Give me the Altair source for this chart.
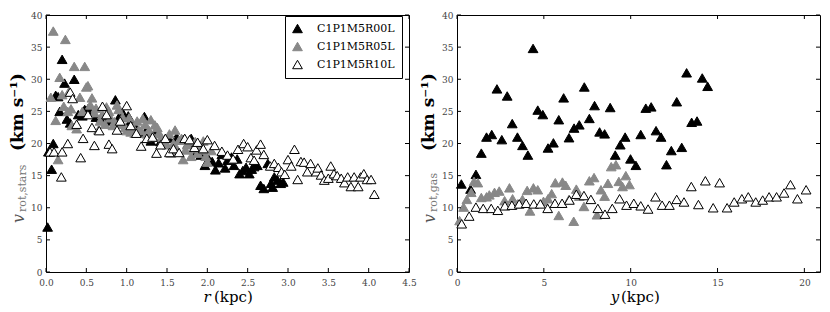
import altair as alt
import pandas as pd

series = ["C1P1M5R00L", "C1P1M5R05L", "C1P1M5R10L"]
fill_colors = ["#000000", "#888888", "#ffffff"]
stroke_colors = ["#000000", "#888888", "#000000"]

# ---- left panel: stars, r (kpc) ----
stars_r00_r = [0.02,0.03,0.07,0.09,0.12,0.15,0.17,0.20,0.23,0.26,0.30,0.35,0.40,0.45,0.48,0.52,0.55,0.62,0.68,0.72,0.78,0.86,0.90,0.96,1.02,1.05,1.10,1.15,1.22,1.25,1.30,1.36,1.42,1.48,1.52,1.58,1.62,1.70,1.76,1.80,1.86,1.92,1.97,2.02,2.06,2.10,2.14,2.18,2.22,2.25,2.30,2.33,2.37,2.40,2.44,2.48,2.52,2.55,2.58,2.62,2.66,2.70,2.75,2.79,2.81,2.83,2.87,2.91,2.94]
stars_r00_v = [7.0,18.7,16.0,20.0,27.5,27.3,25.0,33.1,29.4,23.8,23.2,30.0,24.5,24.3,25.3,25.4,24.9,24.1,24.0,23.9,23.5,26.8,24.0,24.6,24.3,23.5,22.8,21.8,24.2,22.2,20.4,21.8,20.3,20.0,20.8,19.7,21.0,20.6,20.0,20.8,18.6,18.2,16.6,17.5,17.2,15.9,17.0,18.3,16.2,17.4,17.9,16.6,17.6,15.3,15.8,16.3,15.3,16.0,16.4,16.6,13.5,13.0,16.9,13.8,13.2,14.8,14.3,13.8,14.0]

stars_r05_r = [0.06,0.09,0.12,0.15,0.17,0.20,0.22,0.24,0.28,0.31,0.35,0.38,0.42,0.45,0.48,0.50,0.52,0.57,0.60,0.65,0.70,0.75,0.80,0.85,0.90,0.95,1.00,1.05,1.10,1.15,1.20,1.25,1.30,1.35,1.40,1.45,1.50,1.55,1.60,1.65,1.70,1.75,1.80,1.85,1.90,1.95,2.00,2.05,
               0.55,0.62,0.67,0.73,0.78,0.83,0.88,0.93,0.98,1.03,1.08,1.13,1.18,1.23,1.28,1.33,1.38,1.43,1.48,1.53,1.58,1.63,1.68,1.73,1.78,1.83,1.88,1.93,1.98,0.32,0.27]
stars_r05_v = [27.2,37.5,23.6,17.5,30.3,27.6,25.8,36.2,28.0,25.4,32.0,22.3,27.2,25.0,32.0,28.8,29.0,27.1,24.8,22.1,24.5,25.7,24.0,23.4,25.3,24.1,22.0,21.8,21.6,22.1,23.9,21.5,23.7,22.9,21.6,20.5,19.8,18.5,22.1,20.5,17.5,19.8,18.0,20.3,19.7,20.4,17.1,18.9,
               26.0,25.5,23.5,23.0,25.0,22.8,26.0,23.0,22.5,24.0,22.5,23.5,22.0,23.0,22.0,21.0,22.5,21.0,20.8,21.5,20.0,19.0,20.8,19.0,20.5,19.2,18.5,19.0,18.0,22.8,25.0]

stars_r10_r = [0.05,0.10,0.19,0.20,0.27,0.30,0.33,0.38,0.43,0.46,0.52,0.57,0.60,0.66,0.70,0.75,0.78,0.82,0.88,0.92,1.00,1.05,1.12,1.18,1.25,1.32,1.37,1.42,1.48,1.53,1.58,1.65,1.72,1.78,1.84,1.88,1.95,2.00,2.09,2.18,2.25,2.32,2.38,2.45,2.50,2.54,2.58,2.61,2.66,2.70,2.78,2.83,2.88,2.92,2.96,3.00,3.04,3.08,3.12,3.16,3.20,3.24,3.28,3.35,3.37,3.41,3.45,3.50,3.53,3.57,3.61,3.66,3.70,3.74,3.78,3.82,3.87,3.90,3.94,3.98,4.03,4.07]
stars_r10_v = [18.7,18.7,14.8,18.7,20.0,28.0,27.0,23.0,17.8,20.8,24.5,22.5,19.7,22.0,25.8,24.5,19.9,19.2,22.1,23.5,25.9,22.8,21.6,19.6,20.8,21.0,18.5,19.8,20.8,18.6,19.2,18.6,20.8,20.6,19.4,20.2,19.2,20.6,19.7,18.8,18.2,17.6,19.1,20.0,19.5,17.8,17.4,19.0,19.9,18.3,16.5,16.9,16.3,15.6,15.2,17.5,16.5,19.1,14.4,17.2,17.1,15.6,16.9,15.6,16.2,15.1,14.3,14.6,16.5,15.3,15.0,14.6,13.9,14.8,13.3,14.8,13.3,14.8,15.3,14.4,14.4,12.1]

# ---- right panel: gas, y (kpc) ----
gas_r00_y = [0.25,0.78,1.09,1.40,1.70,2.00,2.30,2.58,2.89,3.18,3.48,3.77,4.08,4.38,4.65,4.94,5.24,5.55,5.86,6.14,6.45,6.74,7.04,7.33,7.62,7.92,8.21,8.50,8.82,9.11,9.40,9.68,9.99,10.30,10.58,10.87,11.18,11.46,11.75,12.06,12.34,12.65,12.94,13.22,13.51,13.82,14.12,14.43]
gas_r00_v = [13.7,12.9,15.2,18.5,21.0,21.4,28.5,20.6,27.4,23.1,21.0,19.7,18.2,34.8,25.2,24.5,19.3,20.1,23.7,27.1,20.9,22.4,22.9,28.8,23.9,25.9,21.8,21.5,25.6,18.2,19.8,21.0,17.6,16.6,21.4,25.5,25.7,22.0,21.0,16.7,18.9,26.5,19.4,31.0,23.3,23.5,30.2,28.9]

gas_r05_y = [0.15,0.38,0.57,0.82,0.98,1.20,1.40,1.70,1.86,2.16,2.43,2.74,3.02,3.20,3.48,3.77,4.04,4.20,4.40,4.65,4.98,5.24,5.45,5.66,5.86,6.07,6.26,6.45,6.72,6.87,7.04,7.31,7.62,7.89,8.06,8.29,8.50,8.69,8.88,9.15,9.32,9.53,9.72,9.93]
gas_r05_v = [8.0,10.1,11.3,12.4,14.1,13.9,11.6,11.7,12.0,12.4,12.6,11.1,13.1,11.4,10.6,11.3,12.7,9.5,13.1,12.8,11.0,11.4,12.2,13.9,8.8,14.0,13.5,11.3,7.9,12.9,11.8,10.2,14.2,14.7,8.9,12.8,11.8,13.8,16.4,16.7,14.1,13.3,15.0,13.6]

gas_r10_y = [0.27,0.70,1.09,1.51,1.97,2.35,2.76,3.16,3.58,3.98,4.42,4.80,5.22,5.64,6.05,6.47,6.87,7.31,7.71,8.11,8.52,8.94,9.36,9.76,10.18,10.58,11.00,11.43,11.81,12.23,12.65,13.07,13.49,13.90,14.30,14.75,15.12,15.55,15.96,16.40,16.77,17.20,17.60,17.97,18.40,18.83,19.20,19.60,20.10]
gas_r10_v = [7.5,8.7,10.1,9.9,9.9,9.6,10.3,10.4,10.6,10.7,10.6,10.6,9.9,10.7,10.7,11.2,12.1,11.9,11.3,9.9,9.0,9.9,11.4,10.4,10.7,10.3,9.8,11.7,10.4,10.4,11.3,10.9,13.3,10.5,14.2,10.0,13.9,10.0,10.9,11.4,11.7,10.9,11.2,11.7,11.7,12.3,13.6,11.4,12.8]

left_xticks = [0.0, 0.5, 1.0, 1.5, 2.0, 2.5, 3.0, 3.5, 4.0, 4.5]
right_xticks = [0, 5, 10, 15, 20]
yticks = [0, 5, 10, 15, 20, 25, 30, 35, 40]

W, H = 363, 257
FONT = "DejaVu Serif"


def frame(pairs):
    rows = []
    for name, xs, vs in pairs:
        for a, b in zip(xs, vs):
            rows.append({"x": a, "v": b, "run": name})
    return pd.DataFrame(rows)


def panel(df, xdom, xticks, xfmt, letter, sub, show_legend, title_pos):
    xscale = alt.Scale(domain=xdom, nice=False, zero=False)
    yscale = alt.Scale(domain=[0, 40], nice=False, zero=False)
    lab = dict(grid=False, ticks=False, tickSize=0, domain=False, labelFont=FONT,
               labelFontSize=9, labelColor="#444444",
               labelFlush=False, labelOverlap=False)
    xaxis = alt.Axis(values=xticks, format=xfmt, title=None, labelPadding=6, **lab)
    yaxis = alt.Axis(values=yticks, format="d", title=None, labelPadding=4, **lab)
    if show_legend:
        leg = alt.Legend(title=None, orient="none", legendX=W - 124, legendY=1,
                         strokeColor="black", fillColor="white", padding=7,
                         labelFont=FONT, labelFontSize=11, labelColor="black",
                         symbolType="triangle-up", symbolSize=95, symbolStrokeWidth=1,
                         labelOffset=14, rowPadding=5, cornerRadius=0)
        fill = alt.Fill("run:N", scale=alt.Scale(domain=series, range=fill_colors), legend=leg)
        stroke = alt.Stroke("run:N", scale=alt.Scale(domain=series, range=stroke_colors), legend=leg)
    else:
        fill = alt.Fill("run:N", scale=alt.Scale(domain=series, range=fill_colors), legend=None)
        stroke = alt.Stroke("run:N", scale=alt.Scale(domain=series, range=stroke_colors), legend=None)

    pts = alt.Chart(df).mark_point(shape="triangle-up", filled=True, size=95,
                                   strokeWidth=1, opacity=1).encode(
        x=alt.X("x:Q", scale=xscale, axis=xaxis),
        y=alt.Y("v:Q", scale=yscale, axis=yaxis),
        fill=fill,
        stroke=stroke,
    )
    xt = pd.DataFrame({"x": xticks})
    yt = pd.DataFrame({"v": yticks})
    rx = alt.X("x:Q", scale=xscale, axis=xaxis)
    ry = alt.Y("v:Q", scale=yscale, axis=yaxis)
    tick_b = alt.Chart(xt).mark_rule(color="black").encode(x=rx, y=alt.value(H), y2=alt.value(H - 4))
    tick_t = alt.Chart(xt).mark_rule(color="black").encode(x=rx, y=alt.value(0), y2=alt.value(4))
    tick_l = alt.Chart(yt).mark_rule(color="black").encode(y=ry, x=alt.value(0), x2=alt.value(4))
    tick_r = alt.Chart(yt).mark_rule(color="black").encode(y=ry, x=alt.value(W), x2=alt.value(W - 4))

    one = pd.DataFrame({"a": [0]})

    def txt(s, x, y, **kw):
        return alt.Chart(one).mark_text(text=s, font=FONT, baseline="middle", **kw).encode(
            x=alt.value(x), y=alt.value(y))

    lc, kl = title_pos
    texts = [
        txt("v", -27, 208, angle=270, align="left", fontSize=16, fontStyle="italic", color="#555555"),
        txt(sub, -23, 197, angle=270, align="left", fontSize=11, color="#777777"),
        txt("(km s\u207b\u00b9)", -28, 136, angle=270, align="left", fontSize=17, fontWeight="bold", color="black"),
        txt(letter, lc, H + 25, align="center", fontSize=15, fontStyle="italic", color="black"),
        txt("(kpc)", kl, H + 25, align="left", fontSize=15, color="black"),
    ]
    return alt.layer(pts, tick_b, tick_t, tick_l, tick_r, *texts).properties(width=W, height=H)


left_df = frame([(series[0], stars_r00_r, stars_r00_v),
                 (series[1], stars_r05_r, stars_r05_v),
                 (series[2], stars_r10_r, stars_r10_v)])
right_df = frame([(series[0], gas_r00_y, gas_r00_v),
                  (series[1], gas_r05_y, gas_r05_v),
                  (series[2], gas_r10_y, gas_r10_v)])

left = panel(left_df, [0, 4.5], left_xticks, ".1f", "r", "rot,stars", True, (161, 168))
right = panel(right_df, [0, 20.9], right_xticks, "d", "y", "rot,gas", False, (158, 164))

chart = alt.hconcat(left, right, spacing=2).resolve_scale(
    fill="independent", stroke="independent"
).properties(
    padding={"left": 0, "top": 2, "right": 0, "bottom": 0}
).configure_view(stroke="black", strokeWidth=1)

chart.save("out.html", embed_options={"renderer": "svg", "actions": False})
